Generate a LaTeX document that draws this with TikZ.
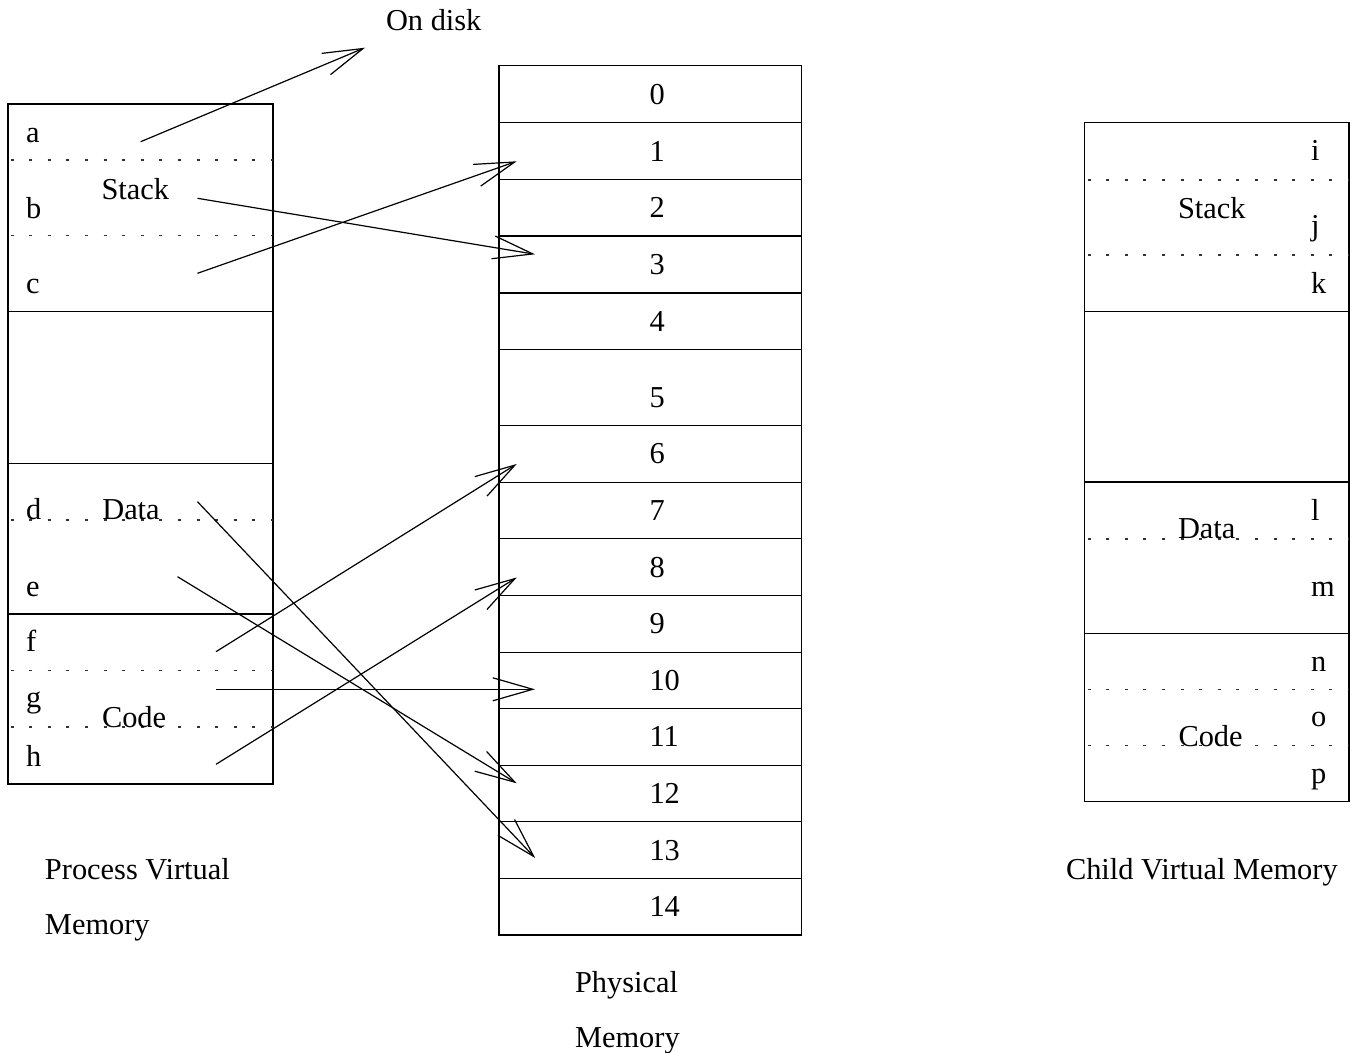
\documentclass[tikz,border=0pt]{standalone}
\usepackage{fontspec}
\setmainfont{Liberation Serif}
\usetikzlibrary{arrows.meta}
\begin{document}
\begin{tikzpicture}[x=0.5pt,y=-0.5pt,
  box/.style={draw,line width=0.6pt},
  dotsep/.style={line width=0.55pt, dash pattern=on 1.5pt off 7.8pt, line cap=butt, black!80},
  lbl/.style={anchor=base west, inner sep=0pt, outer sep=0pt, font=\fontsize{15.2}{18}\selectfont},
  ptr/.style={line width=0.6pt, -{Straight Barb[length=20pt,width=11.5pt,line width=0.6pt]}},
]
\useasboundingbox (0,0) rectangle (1356,1053);

% ---------- Process virtual memory ----------
\draw[box] (8,104) rectangle (273,784);
\draw[box] (8,311.7) -- (273,311.7);
\draw[box] (8,463.3) -- (273,463.3);
\draw[box] (8,614) -- (273,614);
\foreach \yy in {160,235.7,520,670.7,727} \draw[dotsep] (10.5,\yy) -- (273,\yy);

\node[lbl] (la) at (26,142.3) {a};
\node[lbl] (lb) at (26,218.3) {b};
\node[lbl] (lc) at (26,293.3) {c};
\node[lbl] (ld) at (26,520) {d};
\node[lbl] (le) at (26,596.7) {e};
\node[lbl] (lf) at (26,651.7) {f};
\node[lbl] (lg) at (26,707.7) {g};
\node[lbl] (lh) at (26,766) {h};
\node[lbl] (pstack) at (101.5,199.3) {Stack};
\node[lbl] (pdata) at (102.3,520) {Data};
\node[lbl] (pcode) at (102,727.5) {Code};
\node[lbl] (ptitle1) at (45,879) {Process Virtual};
\node[lbl] (ptitle2) at (45,934) {Memory};

\node[lbl] (disk) at (386,30.5) {On disk};

% ---------- Physical memory ----------
\draw[box] (499,65.7) rectangle (801.7,935);
\foreach \yy in {122.7,179.7,236,293,349.3,425.3,482.3,538.7,595.7,652.3,708.7,765.3,821.7,878.3}
  \draw[box] (499,\yy) -- (801.7,\yy);
\node[lbl] (m0) at (649.5,104.2) {0};
\node[lbl] (m1) at (649.5,161.2) {1};
\node[lbl] (m2) at (649.5,217.9) {2};
\node[lbl] (m3) at (649.5,274.5) {3};
\node[lbl] (m4) at (649.5,331.2) {4};
\node[lbl] (m5) at (649.5,407.3) {5};
\node[lbl] (m6) at (649.5,463.8) {6};
\node[lbl] (m7) at (649.5,520.5) {7};
\node[lbl] (m8) at (649.5,577.2) {8};
\node[lbl] (m9) at (649.5,634) {9};
\node[lbl] (m10) at (649.5,690.5) {10};
\node[lbl] (m11) at (649.5,747) {11};
\node[lbl] (m12) at (649.5,803.5) {12};
\node[lbl] (m13) at (649.5,860) {13};
\node[lbl] (m14) at (649.5,916.7) {14};
\node[lbl] (mtitle1) at (575,992) {Physical};
\node[lbl] (mtitle2) at (575,1047) {Memory};

% ---------- Child virtual memory ----------
\draw[box] (1084.7,122.7) rectangle (1349,801.7);
\draw[box] (1084.7,311.7) -- (1349,311.7);
\draw[box] (1084.7,482) -- (1349,482);
\draw[box] (1084.7,633.3) -- (1349,633.3);
\foreach \yy in {180,255,539,689.3,745.7} \draw[dotsep] (1087.5,\yy) -- (1349,\yy);

\node[lbl] (ci) at (1311,160.7) {i};
\node[lbl] (cj) at (1311,235.5) {j};
\node[lbl] (ck) at (1311,294) {k};
\node[lbl] (cl) at (1311,520.7) {l};
\node[lbl] (cm) at (1311,596.7) {m};
\node[lbl] (cn) at (1311,671.7) {n};
\node[lbl] (co) at (1311,726.7) {o};
\node[lbl] (cp) at (1311,783.4) {p};
\node[lbl] (cstack) at (1178,218.3) {Stack};
\node[lbl] (cdata) at (1178,539) {Data};
\node[lbl] (ccode) at (1178.5,746.7) {Code};
\node[lbl] (ctitle) at (1066,879) {Child Virtual Memory};

% ---------- arrow end points ----------
\coordinate (sa) at (140.7,141.7);
\coordinate (sb) at (197.5,198.3);
\coordinate (sc) at (197.5,273.3);
\coordinate (sd) at (197.5,501.7);
\coordinate (se) at (177.5,576.7);
\coordinate (sf) at (216,651.7);
\coordinate (sg) at (216,689.3);
\coordinate (sh) at (216,764.3);

\coordinate (tdisk) at (365,47.7);
\coordinate (t3) at (535,254.3);
\coordinate (t1) at (516.7,161.3);
\coordinate (t13) at (535.2,858);
\coordinate (t12) at (516.7,783.3);
\coordinate (t6) at (516.7,464);
\coordinate (t10) at (535,689.3);
\coordinate (t8) at (516.7,577.5);

\draw[ptr] (sa) -- (tdisk);
\draw[ptr] (sb) -- (t3);
\draw[ptr] (sc) -- (t1);
\draw[ptr] (sd) -- (t13);
\draw[ptr] (se) -- (t12);
\draw[ptr] (sf) -- (t6);
\draw[ptr] (sg) -- (t10);
\draw[ptr] (sh) -- (t8);
\end{tikzpicture}
\end{document}
